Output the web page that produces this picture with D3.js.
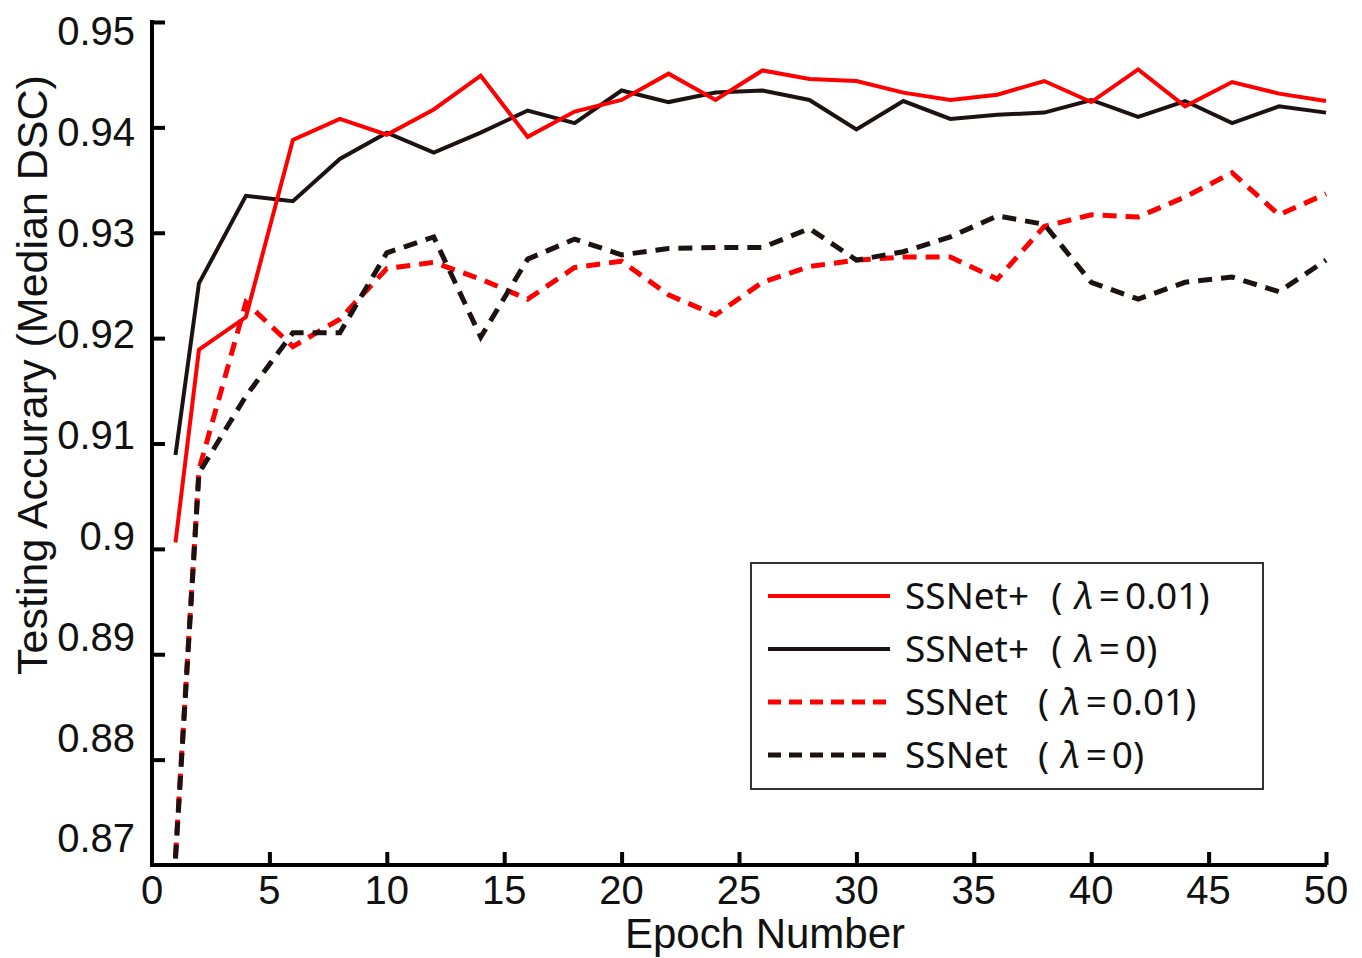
<!DOCTYPE html>
<html>
<head>
<meta charset="utf-8">
<script src="https://cdn.jsdelivr.net/npm/d3@7"></script>
<style>
  body { margin: 0; background: #fff; }
  svg { display: block; }
</style>
</head>
<body>
<div id="chart"></div>
<script>
// epochs sampled in the figure
const epochs = [1, 2, 4, 6, 8, 10, 12, 14, 16, 18, 20, 22, 24, 26, 28, 30, 32, 34, 36, 38, 40, 42, 44, 46, 48, 50];

const ssnetPlus001 = [0.9006, 0.9189, 0.9220, 0.9388, 0.9408, 0.9393, 0.9417, 0.9449, 0.9391, 0.9415, 0.9426, 0.9451, 0.9426,
    0.9454, 0.9446, 0.9444, 0.9433, 0.9426, 0.9431, 0.9444, 0.9424, 0.9455, 0.9420, 0.9443, 0.9432, 0.9425];
const ssnetPlus0 = [0.9089, 0.9252, 0.9335, 0.9330, 0.9370, 0.9395, 0.9376, 0.9395, 0.9416, 0.9404, 0.9435, 0.9424, 0.9433,
    0.9435, 0.9426, 0.9398, 0.9425, 0.9408, 0.9412, 0.9414, 0.9426, 0.9410, 0.9425, 0.9404, 0.9420, 0.9414];
const ssnet001 = [0.8708, 0.9075, 0.9234, 0.9192, 0.9218, 0.9266, 0.9272, 0.9256, 0.9237, 0.9267, 0.9273, 0.9241, 0.9222,
    0.9253, 0.9268, 0.9274, 0.9277, 0.9277, 0.9256, 0.9306, 0.9317, 0.9315, 0.9334, 0.9357, 0.9317, 0.9337];
const ssnet0 = [0.8706, 0.9072, 0.9145, 0.9205, 0.9205, 0.9281, 0.9296, 0.9201, 0.9275, 0.9294, 0.9279, 0.9285, 0.9286,
    0.9286, 0.9304, 0.9274, 0.9282, 0.9296, 0.9316, 0.9308, 0.9253, 0.9237, 0.9253, 0.9258, 0.9244, 0.9274];

const xTicks = [0, 5, 10, 15, 20, 25, 30, 35, 40, 45, 50];
const yTicks = [0.87, 0.88, 0.89, 0.9, 0.91, 0.92, 0.93, 0.94, 0.95];
const yTickLabels = ["0.87", "0.88", "0.89", "0.9", "0.91", "0.92", "0.93", "0.94", "0.95"];

const seriesNames = ["SSNet+", "SSNet+", "SSNet", "SSNet"];
const seriesLambda = ["0.01", "0", "0.01", "0"];

const series = [
    { name: seriesNames[0], lambda: seriesLambda[0], values: ssnetPlus001, color: "#ff0000", dash: null },
    { name: seriesNames[1], lambda: seriesLambda[1], values: ssnetPlus0, color: "#1c1212", dash: null },
    { name: seriesNames[2], lambda: seriesLambda[2], values: ssnet001, color: "#ff0000", dash: "14,9" },
    { name: seriesNames[3], lambda: seriesLambda[3], values: ssnet0, color: "#1c1212", dash: "14,9" }
];

const W = 1362, H = 958;
const plotLeft = 152, plotRight = 1326, plotTop = 22, plotBottom = 865;
const axisFont = "'Liberation Sans', Arial, sans-serif";

const svg = d3.select("#chart").append("svg")
    .attr("width", W)
    .attr("height", H);

const x = d3.scaleLinear().domain([0, 50]).range([plotLeft, plotRight]);
const y = d3.scaleLinear().domain([0.87, 0.95]).range([plotBottom, plotTop]);
// tick labels in the figure sit on a slightly tighter spacing than the ticks
const yLab = d3.scaleLinear().domain([0.87, 0.95]).range([838, 31]);

const line = d3.line()
    .x((d, i) => x(epochs[i]))
    .y(d => y(d));

// red dashed under black dashed, solids on top
const drawOrder = [2, 3, 1, 0];
drawOrder.forEach(k => {
    const s = series[k];
    svg.append("path")
        .datum(s.values)
        .attr("d", line)
        .attr("fill", "none")
        .attr("stroke", s.color)
        .attr("stroke-width", s.dash ? 5 : 4)
        .attr("stroke-dasharray", s.dash)
        .attr("stroke-linejoin", "miter");
});

// axes
const xAxis = svg.append("g")
    .attr("transform", `translate(0,${plotBottom})`)
    .call(d3.axisTop(x).tickValues(xTicks).tickSize(13).tickFormat(""));
const yAxis = svg.append("g")
    .attr("transform", `translate(${plotLeft},0)`)
    .call(d3.axisRight(y).tickValues(yTicks).tickSize(13).tickFormat(""));

xAxis.select(".domain").attr("d", `M${plotLeft - 2},0H${plotRight + 1}`);
yAxis.select(".domain").attr("d", `M0,${plotTop - 2}V${plotBottom + 2}`);
[xAxis, yAxis].forEach(g => {
    g.select(".domain").attr("stroke", "#000").attr("stroke-width", 4);
    g.selectAll(".tick line").attr("stroke", "#000").attr("stroke-width", 4);
});
// the 0 ticks sit in the corner
xAxis.selectAll(".tick").filter(d => d === 0).select("line").remove();
yAxis.selectAll(".tick").filter(d => d === 0.87).select("line").remove();

// x tick labels
svg.append("g").selectAll("text")
    .data(xTicks)
    .join("text")
    .attr("x", d => x(d))
    .attr("y", 904)
    .attr("text-anchor", "middle")
    .attr("font-family", axisFont)
    .attr("font-size", 40)
    .attr("fill", "#111")
    .text(d => d);

// y tick labels
svg.append("g").selectAll("text")
    .data(yTicks)
    .join("text")
    .attr("x", 135)
    .attr("y", d => yLab(d))
    .attr("dy", "0.36em")
    .attr("text-anchor", "end")
    .attr("font-family", axisFont)
    .attr("font-size", 40)
    .attr("fill", "#111")
    .text((d, i) => yTickLabels[i]);

// axis titles
svg.append("text")
    .attr("x", 765)
    .attr("y", 948)
    .attr("text-anchor", "middle")
    .attr("font-family", axisFont)
    .attr("font-size", 42)
    .attr("fill", "#111")
    .text("Epoch Number");

svg.append("text")
    .attr("transform", "translate(47,375) rotate(-90)")
    .attr("text-anchor", "middle")
    .attr("font-family", axisFont)
    .attr("font-size", 43)
    .attr("fill", "#111")
    .text("Testing Accurary (Median DSC)");

// legend
const legend = svg.append("g");
legend.append("rect")
    .attr("x", 751)
    .attr("y", 563)
    .attr("width", 512)
    .attr("height", 226)
    .attr("fill", "#fff")
    .attr("stroke", "#333")
    .attr("stroke-width", 2);

const legendFont = "'Noto Sans', 'Open Sans', sans-serif";
series.forEach((s, i) => {
    const ly = 596 + i * 53;
    legend.append("line")
        .attr("x1", 768).attr("x2", 890)
        .attr("y1", ly).attr("y2", ly)
        .attr("stroke", s.color)
        .attr("stroke-width", s.dash ? 5 : 4)
        .attr("stroke-dasharray", s.dash ? "13,8" : null);
    const t = legend.append("text")
        .attr("x", 905)
        .attr("y", ly + 13)
        .attr("font-family", legendFont)
        .attr("font-size", 37)
        .attr("fill", "#111");
    t.append("tspan").text(s.name);
    t.append("tspan").attr("dx", s.name === "SSNet" ? 30 : 22).text("(");
    t.append("tspan").attr("dx", 12).attr("font-style", "italic").text("λ");
    t.append("tspan").attr("dx", 5).text("=");
    t.append("tspan").attr("dx", 5).text(s.lambda + ")");
});
</script>
</body>
</html>
